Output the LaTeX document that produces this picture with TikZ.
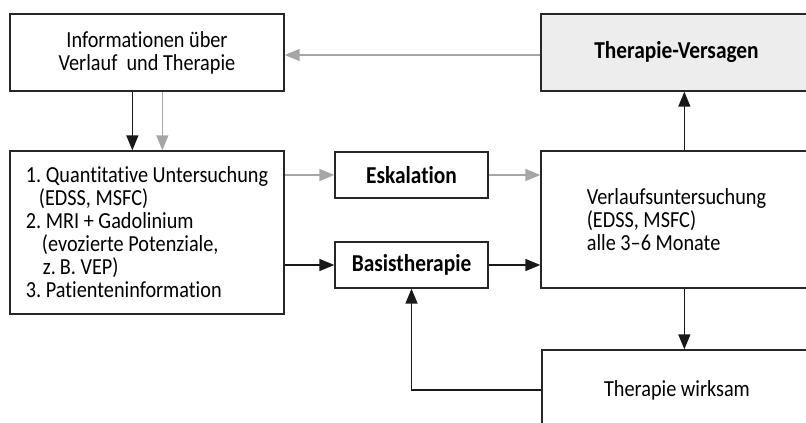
\documentclass[tikz,border=0pt]{standalone}
\usepackage{fontspec}
\setmainfont{Carlito}[FakeStretch=0.88, Ligatures=NoCommon]
\usetikzlibrary{arrows.meta,calc}
\definecolor{arrgrey}{HTML}{A6A6A6}
\definecolor{boxgrey}{HTML}{EDEDED}
\begin{document}
\begin{tikzpicture}[x=1pt,y=-1pt,
  box/.style={draw=black!85, line width=1.3pt, fill=white, inner sep=0pt,
    font=\fontsize{23}{23}\selectfont, align=center},
  boldbox/.style={box, font=\fontsize{24.3}{24}\selectfont\bfseries},
  blk/.style={draw=black!90, line width=1.4pt, -{Triangle[length=15pt,width=12pt]}},
  gry/.style={draw=arrgrey, line width=1.4pt, -{Triangle[length=15pt,width=12pt]}},
]
\useasboundingbox (0,0) rectangle (806,423);
\clip (0,0) rectangle (806,423);
\fill[white] (0,0) rectangle (806,423);

\node[box, minimum width=274pt, minimum height=77pt] (info) at (147,52.5)
  {Informationen über\\Verlauf\ \ und Therapie};
\node[boldbox, fill=boxgrey, minimum width=271pt, minimum height=77pt] (fail) at (676.5,52.5)
  {Therapie-Versagen};
\node[box, align=left, minimum width=274pt, minimum height=163pt] (exam) at (147,232.5)
  {1.~Quantitative Untersuchung\\\hspace*{13pt}(EDSS, MSFC)\\2.~MRI + Gadolinium\\\hspace*{16pt}(evozierte Potenziale,\\\hspace*{17pt}z.\,B. VEP)\\3.~Patienteninformation};
\node[boldbox, minimum width=153pt, minimum height=46pt] (esk) at (411.5,175) {Eskalation};
\node[boldbox, minimum width=153pt, minimum height=46pt] (basis) at (411.5,265) {Basistherapie};
\node[box, align=left, minimum width=271pt, minimum height=137pt] (follow) at (676.5,219.5)
  {Verlaufsuntersuchung\\(EDSS, MSFC)\\alle 3–6 Monate};
\node[box, minimum width=270pt, minimum height=80pt] (ok) at (677,390) {Therapie wirksam};

\draw[gry] ($(fail.west)+(0,2.5)$) -- ($(info.east)+(0,2.5)$);
\draw[blk] ($(info.south west)+(123,0)$) -- ($(exam.north west)+(123,0)$);
\draw[gry] ($(info.south west)+(153,0)$) -- ($(exam.north west)+(153,0)$);
\draw[gry] (exam.east |- esk) -- (esk.west);
\draw[gry] (esk.east) -- (esk.east -| follow.west);
\draw[blk] (exam.east |- basis) -- (basis.west);
\draw[blk] (basis.east) -- (basis.east -| follow.west);
\draw[blk] ($(follow.north west)+(144,0)$) -- ($(fail.south west)+(144,0)$);
\draw[blk] ($(follow.south west)+(144,0)$) -- ($(ok.north west)+(143,0)$);
\draw[blk] (ok.west) -| (basis.south);
\end{tikzpicture}
\end{document}
